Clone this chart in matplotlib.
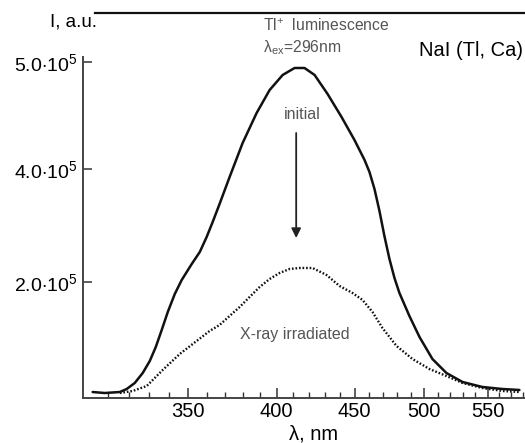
import numpy as np
import matplotlib.pyplot as plt
from matplotlib.lines import Line2D
from matplotlib.ticker import NullFormatter, NullLocator

plt.rcParams['font.family'] = ['Liberation Sans', 'DejaVu Sans']
plt.rcParams['mathtext.fontset'] = 'custom'
plt.rcParams['mathtext.rm'] = 'Liberation Sans'
plt.rcParams['mathtext.it'] = 'Liberation Sans:italic'

# Tl+ emission of NaI(Tl, Ca), excitation at 296 nm
wl_initial = [303.0, 308.6, 315.7, 319.0, 322.9, 326.8, 330.3, 333.3, 336.3, 339.4,
              343.0, 346.6, 351.9, 356.2, 359.9, 363.2, 367.0, 372.6, 380.0, 388.1,
              395.8, 403.7, 411.0, 417.2, 423.6, 432.0, 441.2, 449.9, 456.8, 460.2,
              463.7, 467.2, 470.7, 474.3, 477.9, 481.5, 488.8, 496.3, 506.1, 516.9,
              529.6, 545.7, 562.5, 577.1]
int_initial = [1.03e4, 8.6e3, 1.03e4, 1.55e4, 2.59e4, 4.31e4, 6.38e4, 8.79e4, 1.172e5, 1.483e5,
               1.793e5, 2.035e5, 2.319e5, 2.531e5, 2.796e5, 3.062e5, 3.381e5, 3.858e5, 4.243e5, 4.523e5,
               4.738e5, 4.879e5, 4.944e5, 4.944e5, 4.879e5, 4.701e5, 4.486e5, 4.271e5, 4.084e5, 3.947e5,
               3.646e5, 3.257e5, 2.814e5, 2.407e5, 2.071e5, 1.810e5, 1.414e5, 1.052e5, 6.72e4, 4.31e4,
               2.76e4, 1.90e4, 1.55e4, 1.38e4]

wl_irradiated = [315.7, 321.9, 328.8, 336.8, 345.6, 354.5, 361.5, 367.0, 372.6, 378.3,
                 384.0, 389.9, 395.8, 401.8, 407.9, 414.1, 422.3, 431.3, 439.9, 448.6,
                 455.4, 462.3, 469.3, 479.4, 491.1, 503.8, 516.9, 529.6, 545.7, 562.5,
                 577.1]
int_irradiated = [8.6e3, 1.21e4, 2.07e4, 4.83e4, 7.59e4, 9.83e4, 1.155e5, 1.259e5, 1.414e5, 1.569e5,
                  1.741e5, 1.914e5, 2.053e5, 2.159e5, 2.230e5, 2.248e5, 2.248e5, 2.124e5, 1.931e5, 1.810e5,
                  1.690e5, 1.483e5, 1.207e5, 8.97e4, 6.72e4, 5.0e4, 3.79e4, 2.59e4, 1.72e4, 1.21e4,
                  1.03e4]

x_major = [350, 400, 450, 500, 550]
x_minor = [310, 320, 330, 340, 360, 370, 380, 390, 410, 420, 430, 440, 460, 470, 480,
           490, 510, 520, 530, 540, 560, 570, 580]
y_ticks = [2e5, 4e5, 5e5]
y_ticklabels = [r'$2.0{\cdot}10^5$', r'$4.0{\cdot}10^5$', r'$5.0{\cdot}10^5$']

# intensity axis is not linear: piecewise mapping between the labelled levels
knots_v = np.array([0, 2e5, 4e5, 5e5, 6e5])
knots_u = np.array([0, 116, 229, 336, 443])


def fwd(v):
    return np.interp(v, knots_v, knots_u)


def inv(u):
    return np.interp(u, knots_u, knots_v)


fig = plt.figure(figsize=(5.25, 4.43), dpi=100)
ax = fig.add_axes([0.158, 0.1016, 0.842, 0.7698])

ax.plot(wl_initial, int_initial, color='#111111', lw=1.8,
        solid_joinstyle='round', solid_capstyle='round')
ax.plot(wl_irradiated, int_irradiated, color='#111111', lw=1.7, linestyle=(0, (0.7, 0.8)))

ax.set_xscale('log')
ax.set_yscale('function', functions=(fwd, inv))
ax.set_xlim(298.6, 582)
ax.set_ylim(0, 5.047e5)

ax.set_xticks(x_major)
ax.set_xticklabels([str(v) for v in x_major])
ax.set_xticks(x_minor, minor=True)
ax.xaxis.set_minor_formatter(NullFormatter())
ax.set_yticks(y_ticks)
ax.set_yticklabels(y_ticklabels)
ax.yaxis.set_minor_locator(NullLocator())

ax.tick_params(axis='x', which='major', direction='in', length=7, width=1.1,
               color='#333333', labelsize=14.5, pad=3)
ax.tick_params(axis='x', which='minor', direction='in', length=4, width=1.0, color='#333333')
ax.tick_params(axis='y', direction='in', length=6.5, width=1.1, color='#333333',
               labelsize=14, pad=4)

for side in ['top', 'right']:
    ax.spines[side].set_visible(False)
for side in ['left', 'bottom']:
    ax.spines[side].set_color('#444444')
    ax.spines[side].set_linewidth(1.4)

# arrow from the initial curve down to the irradiated one
ax.annotate('', xy=(412, inv(398 - 238)), xytext=(412, inv(398 - 133)),
            arrowprops=dict(arrowstyle='-|>', color='#222222', lw=1.3,
                            mutation_scale=14, shrinkA=0, shrinkB=0))

ax.text(416, inv(398 - 115), 'initial', ha='center', va='center', fontsize=11.5, color='#555555')
ax.text(411, inv(398 - 335), 'X-ray irradiated', ha='center', va='center', fontsize=11.5,
        color='#555555')

fig.text(263 / 525, 1 - 26 / 443, r'Tl$^{+}$  luminescence', ha='left', va='center',
         fontsize=11.3, color='#555555')
fig.text(263 / 525, 1 - 48 / 443, r'λ$_{\mathrm{ex}}$=296nm', ha='left', va='center',
         fontsize=11.3, color='#555555')
fig.text(523 / 525, 1 - 50 / 443, 'NaI (Tl, Ca)', ha='right', va='center', fontsize=14.5)
fig.text(74 / 525, 1 - 22 / 443, 'I, a.u.', ha='center', va='center', fontsize=13.5)
fig.text(314 / 525, 1 - 434 / 443, 'λ, nm', ha='center', va='center', fontsize=14.5)

fig.add_artist(Line2D([95 / 525, 1.0], [1 - 13 / 443, 1 - 13 / 443], color='#111111', lw=1.6))

fig.savefig('out.png', dpi=100)
